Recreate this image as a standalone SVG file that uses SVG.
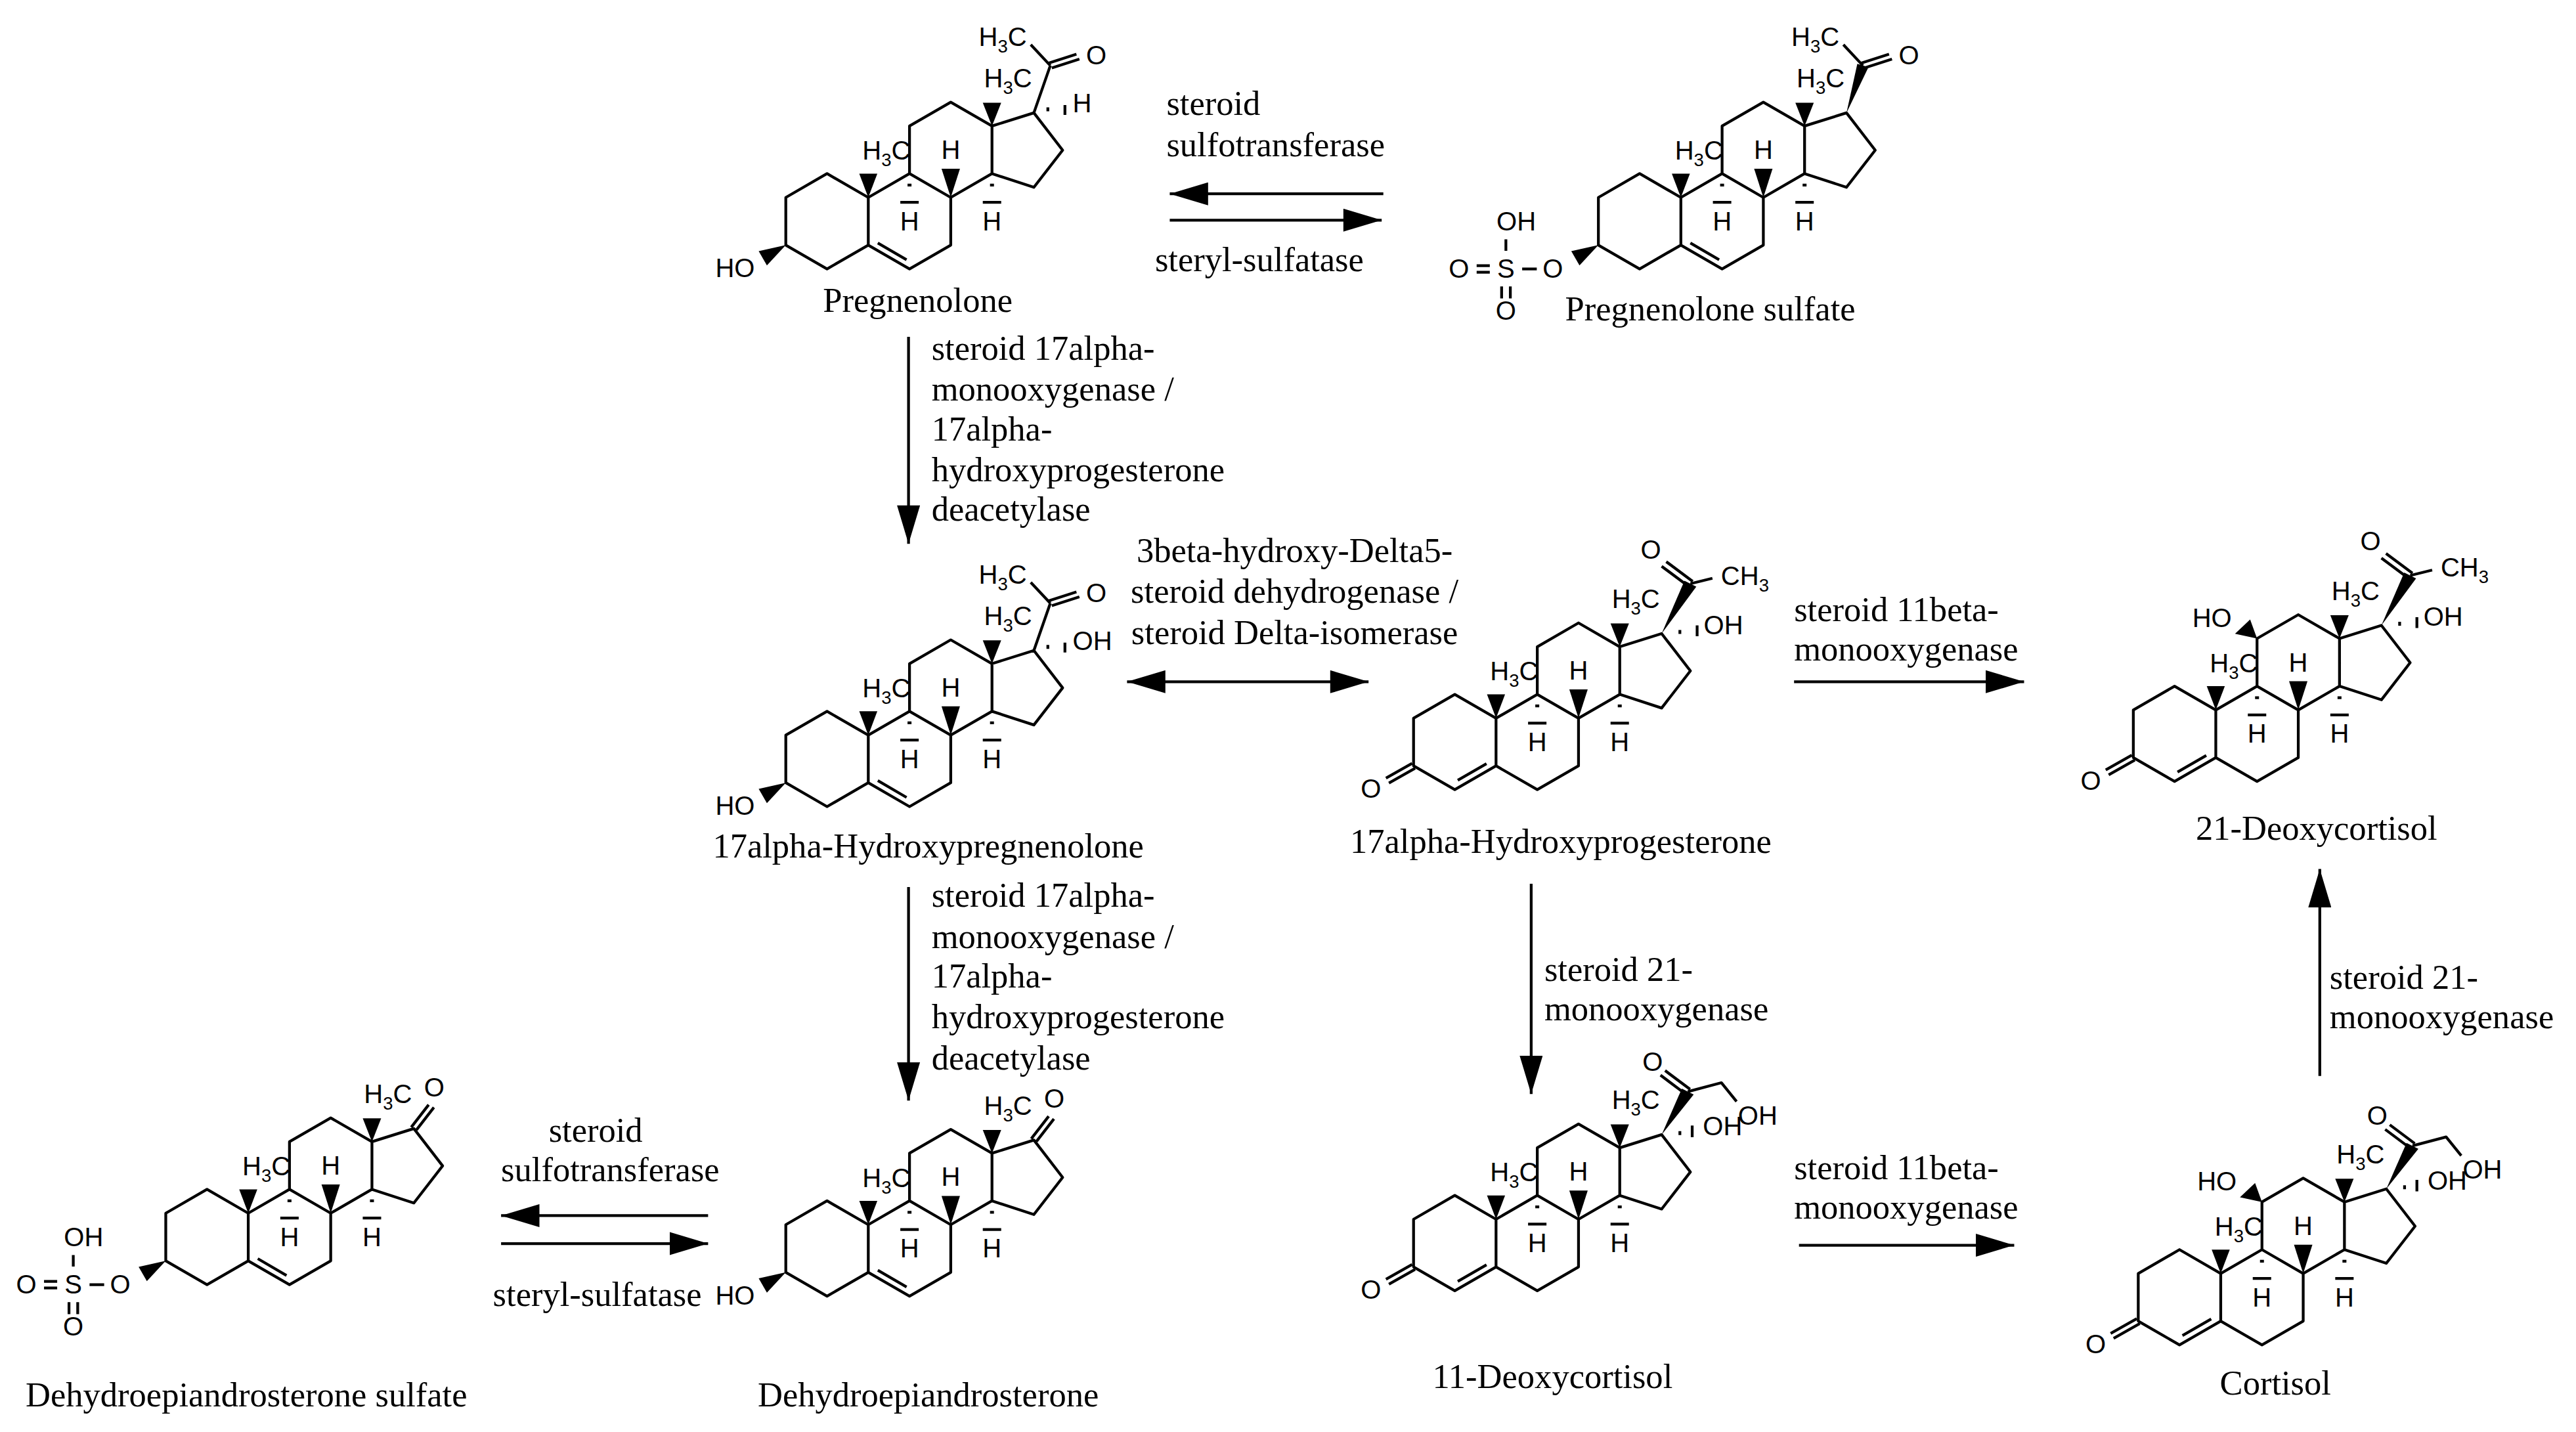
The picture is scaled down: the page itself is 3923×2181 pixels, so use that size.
<svg xmlns="http://www.w3.org/2000/svg" xmlns:xlink="http://www.w3.org/1999/xlink" width="3923" height="2181" viewBox="0 0 3923 2181">
<style>
.b{fill:none;stroke:#000;stroke-width:1.7;stroke-linejoin:round}
.w{fill:#000;stroke:none}
.c{font-family:"Liberation Sans",Arial,sans-serif;font-size:16px;fill:#000}
.sb{font-size:11px}
.n{font-family:"Liberation Serif","Times New Roman",serif;font-size:21px;fill:#000}
.ar{stroke:#000;stroke-width:1.7;fill:none}
</style>
<defs>
<marker id="ah" markerUnits="userSpaceOnUse" markerWidth="24" markerHeight="14" refX="20" refY="6" orient="auto-start-reverse" viewBox="0 0 20 12"><path d="M0,0 L20,6 L0,12 Z" fill="#000"/></marker>
<g id="core">
<path class="b" d="M0,-29 L25.1,-14.5 L25.1,14.5 L0,29 L-25.1,14.5 L-25.1,-14.5 Z M25.1,-14.5 L50.2,-29 L75.3,-14.5 L75.3,14.5 L50.2,29 L25.1,14.5 M50.2,-29 L50.2,-58 L75.3,-72.5 L100.4,-58 L100.4,-29 L75.3,-14.5 M100.4,-58 L125.9,-66 L143.4,-43.3 L125.9,-20.7 L100.4,-29"/>
<polygon class="w" points="25.1,-14.5 19.6,-29 30.6,-29"/>
<polygon class="w" points="75.3,-14.5 69.7,-32 80.9,-32"/>
<polygon class="w" points="100.4,-58 94.8,-72.2 106,-72.2"/>
<path class="b" d="M49,-22 L51.4,-22 M44.6,-11.5 L55.8,-11.5 M99.2,-22 L101.6,-22 M94.8,-11.5 L106,-11.5"/>
<text class="c" x="50.7" y="-37.5" text-anchor="end">H<tspan class="sb" dy="4">3</tspan><tspan dy="-4">C</tspan></text>
<text class="c" x="124.8" y="-81.5" text-anchor="end">H<tspan class="sb" dy="4">3</tspan><tspan dy="-4">C</tspan></text>
<text class="c" x="75.3" y="-38" text-anchor="middle">H</text>
<text class="c" x="50.2" y="5.5" text-anchor="middle">H</text>
<text class="c" x="100.4" y="5.5" text-anchor="middle">H</text>
</g>
<path id="db5" class="b" d="M30.9,13.2 L48.4,23.4"/>
<polygon id="bw" class="w" points="-25.1,14.5 -41.6,18.2 -36.6,26.9"/>
<g id="d4">
<path class="b" d="M-24.2,16 L-40.1,25 M-26,13 L-41.9,22 M1.8,23.3 L19.3,13.2"/>
<text class="c" x="-51" y="34" text-anchor="middle">O</text>
</g>
<g id="pch">
<path class="b" d="M135.9,-94.8 L124,-107.5 M136.8,-93.3 L153.6,-98.7 M135,-96.3 L151.8,-101.7"/>
<text class="c" x="121.6" y="-106.8" text-anchor="end">H<tspan class="sb" dy="4">3</tspan><tspan dy="-4">C</tspan></text>
<text class="c" x="163.9" y="-95.5" text-anchor="middle">O</text>
</g>
<path id="pthin" class="b" d="M125.9,-66 L135.9,-94.8"/>
<polygon id="pbold" class="w" points="125.9,-66 132.5,-95.8 139.3,-93.8"/>
<path id="hash17" class="b" d="M134.4,-69.4 L134.4,-67 M144.8,-70.8 L144.8,-64.8"/>
<g id="qch">
<polygon class="w" points="125.9,-66 139.8,-98.2 147,-94.6"/>
<path class="b" d="M143.4,-96.4 L156.8,-99.7 M144.8,-97.8 L128.7,-109.8 M142,-95 L125.9,-107"/>
<text class="c" x="119.3" y="-111.7" text-anchor="middle">O</text>
<text class="c" x="162" y="-95.7">CH<tspan class="sb" dy="4">3</tspan></text>
<path class="b" d="M137,-68.2 L137,-65.8 M147.5,-71 L147.5,-64.4"/>
<text class="c" x="151.5" y="-65.7">OH</text>
</g>
<g id="rch">
<polygon class="w" points="125.9,-66 138.2,-94 145.4,-90.4"/>
<path class="b" d="M141.8,-92.2 L162.3,-97.6 L171.5,-86.2 M143.2,-93.6 L128,-105 M140.4,-90.8 L125.2,-102.2"/>
<text class="c" x="120.4" y="-105" text-anchor="middle">O</text>
<text class="c" x="172.4" y="-72.2">OH</text>
<path class="b" d="M137,-68.2 L137,-65.8 M144.5,-71.5 L144.5,-64.5"/>
<text class="c" x="151" y="-65.6">OH</text>
</g>
<g id="oh11">
<polygon class="w" points="50.2,-58 36.8,-60.9 46,-69.6"/>
<text class="c" x="34.8" y="-64.9" text-anchor="end">HO</text>
</g>
<g id="keto17">
<path class="b" d="M124.3,-66.8 L134.9,-80.5 M127.5,-65.2 L138.1,-78.9"/>
<text class="c" x="138.3" y="-85.7" text-anchor="middle">O</text>
</g>
<g id="sulf">
<path class="b" d="M-71.5,29 L-62.6,29 M-81.4,11 L-81.4,18 M-99.2,27 L-91.2,27 M-99.2,31 L-91.2,31 M-84,39.7 L-84,47 M-78.7,39.7 L-78.7,47"/>
<text class="c" x="-52.8" y="34.5" text-anchor="middle">O</text>
<text class="c" x="-81.4" y="34.5" text-anchor="middle">S</text>
<text class="c" x="-75.1" y="5.7" text-anchor="middle">OH</text>
<text class="c" x="-110" y="34.5" text-anchor="middle">O</text>
<text class="c" x="-81.4" y="60" text-anchor="middle">O</text>
</g>
</defs>
<g transform="scale(2.502)">
<rect x="0" y="0" width="1568" height="872" fill="#fff"/>
<g id="pregnenolone" transform="translate(503.4,134.7)">
<use xlink:href="#core"/><use xlink:href="#db5"/><use xlink:href="#bw"/>
<text class="c" x="-44" y="34" text-anchor="end">HO</text>
<use xlink:href="#pthin"/><use xlink:href="#pch"/><use xlink:href="#hash17"/>
<text class="c" x="149.5" y="-66.2">H</text>
</g>
<text class="n" x="558.6" y="190" text-anchor="middle">Pregnenolone</text>
<g id="pregnenolone-sulfate" transform="translate(998,134.7)">
<use xlink:href="#core"/><use xlink:href="#db5"/><use xlink:href="#bw"/><use xlink:href="#sulf"/>
<use xlink:href="#pbold"/><use xlink:href="#pch"/>
</g>
<text class="n" x="1041" y="195" text-anchor="middle">Pregnenolone sulfate</text>
<g id="hydroxypregnenolone" transform="translate(503.4,462)">
<use xlink:href="#core"/><use xlink:href="#db5"/><use xlink:href="#bw"/>
<text class="c" x="-44" y="34" text-anchor="end">HO</text>
<use xlink:href="#pthin"/><use xlink:href="#pch"/><use xlink:href="#hash17"/>
<text class="c" x="149.5" y="-66.2">OH</text>
</g>
<text class="n" x="565" y="522" text-anchor="middle">17alpha-Hydroxypregnenolone</text>
<g id="dhea" transform="translate(503.4,760)">
<use xlink:href="#core"/><use xlink:href="#db5"/><use xlink:href="#bw"/>
<text class="c" x="-44" y="34" text-anchor="end">HO</text>
<use xlink:href="#keto17"/>
</g>
<text class="n" x="565" y="856" text-anchor="middle">Dehydroepiandrosterone</text>
<g id="dhea-sulfate" transform="translate(126,753)">
<use xlink:href="#core"/><use xlink:href="#db5"/><use xlink:href="#bw"/><use xlink:href="#sulf"/>
<use xlink:href="#keto17"/>
</g>
<text class="n" x="150" y="856" text-anchor="middle">Dehydroepiandrosterone sulfate</text>
<g id="hydroxyprogesterone" transform="translate(885.5,451.7)">
<use xlink:href="#core"/><use xlink:href="#d4"/><use xlink:href="#qch"/>
</g>
<text class="n" x="950" y="519" text-anchor="middle">17alpha-Hydroxyprogesterone</text>
<g id="deoxycortisol21" transform="translate(1323.6,446.7)">
<use xlink:href="#core"/><use xlink:href="#d4"/><use xlink:href="#qch"/><use xlink:href="#oh11"/>
</g>
<text class="n" x="1410" y="511" text-anchor="middle">21-Deoxycortisol</text>
<g id="deoxycortisol11" transform="translate(885.5,756.7)">
<use xlink:href="#core"/><use xlink:href="#d4"/><use xlink:href="#rch"/>
</g>
<text class="n" x="945" y="845" text-anchor="middle">11-Deoxycortisol</text>
<g id="cortisol" transform="translate(1326.6,789.7)">
<use xlink:href="#core"/><use xlink:href="#d4"/><use xlink:href="#rch"/><use xlink:href="#oh11"/>
</g>
<text class="n" x="1385" y="849" text-anchor="middle">Cortisol</text>
<g id="connectors">
<line class="ar" x1="842" y1="118" x2="712" y2="118" marker-end="url(#ah)"/>
<line class="ar" x1="712" y1="134" x2="841" y2="134" marker-end="url(#ah)"/>
<line class="ar" x1="553" y1="205" x2="553" y2="331" marker-end="url(#ah)"/>
<line class="ar" x1="686" y1="415" x2="833" y2="415" marker-start="url(#ah)" marker-end="url(#ah)"/>
<line class="ar" x1="1092" y1="415" x2="1232" y2="415" marker-end="url(#ah)"/>
<line class="ar" x1="553" y1="540" x2="553" y2="670" marker-end="url(#ah)"/>
<line class="ar" x1="932" y1="538" x2="932" y2="666" marker-end="url(#ah)"/>
<line class="ar" x1="1095" y1="758" x2="1226" y2="758" marker-end="url(#ah)"/>
<line class="ar" x1="1412" y1="655" x2="1412" y2="529" marker-end="url(#ah)"/>
<line class="ar" x1="431" y1="740" x2="305" y2="740" marker-end="url(#ah)"/>
<line class="ar" x1="305" y1="757" x2="431" y2="757" marker-end="url(#ah)"/>
</g>
<g id="labels">
<text class="n" x="710" y="70">steroid</text>
<text class="n" x="710" y="95">sulfotransferase</text>
<text class="n" x="703" y="165">steryl-sulfatase</text>
<text class="n" x="567" y="219">steroid 17alpha-</text>
<text class="n" x="567" y="244">monooxygenase /</text>
<text class="n" x="567" y="268">17alpha-</text>
<text class="n" x="567" y="293">hydroxyprogesterone</text>
<text class="n" x="567" y="317">deacetylase</text>
<text class="n" x="788" y="342" text-anchor="middle">3beta-hydroxy-Delta5-</text>
<text class="n" x="788" y="367" text-anchor="middle">steroid dehydrogenase /</text>
<text class="n" x="788" y="392" text-anchor="middle">steroid Delta-isomerase</text>
<text class="n" x="1092" y="378">steroid 11beta-</text>
<text class="n" x="1092" y="402">monooxygenase</text>
<text class="n" x="567" y="552">steroid 17alpha-</text>
<text class="n" x="567" y="577">monooxygenase /</text>
<text class="n" x="567" y="601">17alpha-</text>
<text class="n" x="567" y="626">hydroxyprogesterone</text>
<text class="n" x="567" y="651">deacetylase</text>
<text class="n" x="940" y="597">steroid 21-</text>
<text class="n" x="940" y="621">monooxygenase</text>
<text class="n" x="1092" y="718">steroid 11beta-</text>
<text class="n" x="1092" y="742">monooxygenase</text>
<text class="n" x="1418" y="602">steroid 21-</text>
<text class="n" x="1418" y="626">monooxygenase</text>
<text class="n" x="334" y="695">steroid</text>
<text class="n" x="305" y="719">sulfotransferase</text>
<text class="n" x="300" y="795">steryl-sulfatase</text>
</g>
</g>
</svg>
